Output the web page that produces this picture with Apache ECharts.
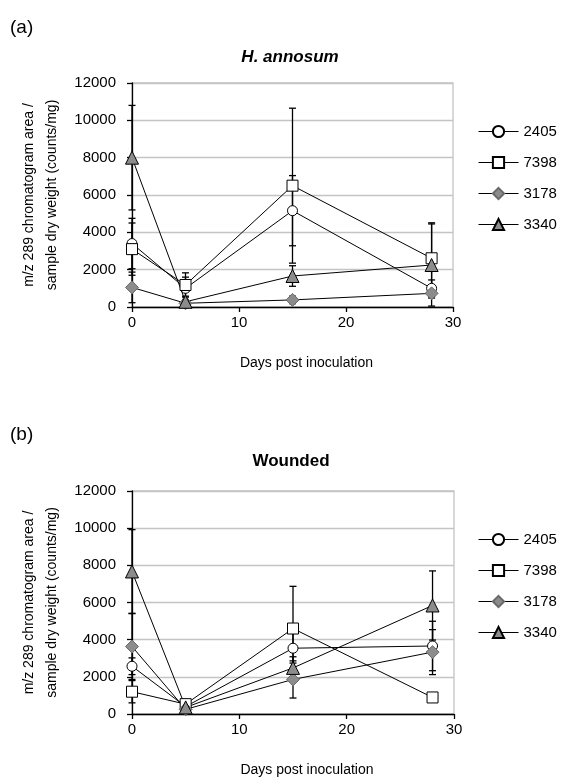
<!DOCTYPE html>
<html>
<head>
<meta charset="utf-8">
<script src="https://cdn.jsdelivr.net/npm/echarts@6/dist/echarts.min.js"></script>
<style>
  html, body { margin: 0; padding: 0; background: #fff; }
  #chart { width: 561px; height: 778px; }
</style>
</head>
<body>
<div id="chart"></div>
<script>
// Sampling days
const days = [0, 5, 15, 28];
const strainNames = ['2405', '7398', '3178', '3340'];
const yTicks = [0, 2000, 4000, 6000, 8000, 10000, 12000];
const xTicks = [0, 10, 20, 30];

// (a) H. annosum inoculated: mean values
const annosum2405 = [3400, 1000, 5160, 1000];
const annosum7398 = [3100, 1180, 6500, 2610];
const annosum3178 = [1050, 200, 380, 730];
const annosum3340 = [8000, 280, 1660, 2250];
// (a) standard deviations
const annosum2405Err = [1350, 600, 1880, 450];
const annosum7398Err = [1400, 650, 4150, 1900];
const annosum3178Err = [820, 150, 200, 250];
const annosum3340Err = [2800, 300, 550, 2200];

// (b) Wounded: mean values
const wounded2405 = [2570, 400, 3540, 3660];
const wounded7398 = [1200, 530, 4600, 890];
const wounded3178 = [3630, 250, 1860, 3330];
const wounded3340 = [7670, 355, 2480, 5840];
// (b) standard deviations
const wounded2405Err = [450, 150, 800, 1330];
const wounded7398Err = [600, 150, 2270, 100];
const wounded3178Err = [1770, 150, 1000, 1210];
const wounded3340Err = [2250, 150, 600, 1860];

const FONT = 'Liberation Sans, Arial, sans-serif';

const markerStyles = {
  '2405': { symbol: 'circle', symbolSize: 10, itemStyle: { color: '#ffffff', borderColor: '#000', borderWidth: 1 } },
  '7398': { symbol: 'rect', symbolSize: 11, itemStyle: { color: '#ffffff', borderColor: '#000', borderWidth: 1 } },
  '3178': { symbol: 'diamond', symbolSize: 13, itemStyle: { color: '#8c8c8c', borderColor: '#6a6a6a', borderWidth: 1 } },
  '3340': { symbol: 'triangle', symbolSize: 13, itemStyle: { color: '#8c8c8c', borderColor: '#000', borderWidth: 1 } }
};

const panels = [
  { values: [annosum2405, annosum7398, annosum3178, annosum3340],
    errors: [annosum2405Err, annosum7398Err, annosum3178Err, annosum3340Err] },
  { values: [wounded2405, wounded7398, wounded3178, wounded3340],
    errors: [wounded2405Err, wounded7398Err, wounded3178Err, wounded3340Err] }
];

const grids = [
  { left: 132, top: 83, width: 321, height: 224 },
  { left: 132, top: 491, width: 322, height: 226 }
];

function xAxisFor(i) {
  return {
    gridIndex: i, type: 'value', min: 0, max: 30, interval: 10,
    name: 'Days post inoculation', nameLocation: 'middle', nameGap: 49,
    nameTextStyle: { fontFamily: FONT, fontSize: 14, color: '#000', padding: [0, 0, 0, 28] },
    axisLine: { show: true, onZero: false, lineStyle: { color: '#000', width: 1.3 } },
    axisTick: { show: true, inside: false, length: 5, lineStyle: { color: '#000', width: 1.3 } },
    axisLabel: { fontFamily: FONT, fontSize: 15, color: '#000', margin: 8,
      formatter: v => xTicks.includes(v) ? String(v) : '' },
    splitLine: { show: false }
  };
}

function yAxisFor(i) {
  return {
    gridIndex: i, type: 'value', min: 0, max: 12000, interval: 2000,
    name: 'm/z 289 chromatogram area /\nsample dry weight (counts/mg)',
    nameLocation: 'middle', nameRotate: 90, nameGap: 68,
    nameTextStyle: { fontFamily: FONT, fontSize: 14, color: '#000', lineHeight: 23 },
    axisLine: { show: true, lineStyle: { color: '#000', width: 1.3 } },
    axisTick: { show: true, inside: false, length: 5, lineStyle: { color: '#000', width: 1.3 } },
    axisLabel: { fontFamily: FONT, fontSize: 15, color: '#000', margin: 16,
      formatter: v => yTicks.includes(v) ? String(v) : '' },
    splitLine: { show: true, lineStyle: { color: '#c4c4c4', width: 1.3 } }
  };
}

// Vertical error bar with caps, drawn through the axis scales
function renderErrorBar(params, api) {
  const x = api.value(0), y = api.value(1), e = api.value(2);
  const hi = api.coord([x, Math.min(y + e, 12000)]);
  const lo = api.coord([x, Math.max(y - e, 0)]);
  const cap = 3.5;
  const style = { stroke: '#000', lineWidth: 1.3 };
  return {
    type: 'group',
    children: [
      { type: 'line', shape: { x1: hi[0], y1: hi[1], x2: lo[0], y2: lo[1] }, style },
      { type: 'line', shape: { x1: hi[0] - cap, y1: hi[1], x2: hi[0] + cap, y2: hi[1] }, style },
      { type: 'line', shape: { x1: lo[0] - cap, y1: lo[1], x2: lo[0] + cap, y2: lo[1] }, style }
    ]
  };
}

const series = [];
panels.forEach((panel, p) => {
  strainNames.forEach((name, s) => {
    series.push({
      name: 'sd-' + p + '-' + name,
      type: 'custom',
      xAxisIndex: p, yAxisIndex: p,
      renderItem: renderErrorBar,
      data: days.map((d, k) => [d, panel.values[s][k], panel.errors[s][k]]),
      z: 1, silent: true
    });
  });
  strainNames.forEach((name, s) => {
    series.push(Object.assign({
      name: name,
      type: 'line',
      xAxisIndex: p, yAxisIndex: p,
      data: days.map((d, k) => [d, panel.values[s][k]]),
      lineStyle: { color: '#000', width: 1 },
      z: 3, animation: false
    }, markerStyles[name]));
  });
});

function legendFor(top) {
  return {
    orient: 'vertical', left: 473, top: top,
    data: strainNames,
    itemWidth: 40, itemHeight: 14, itemGap: 16,
    lineStyle: { width: 1, color: '#000' },
    textStyle: { fontFamily: FONT, fontSize: 15, color: '#000' },
    selectedMode: false
  };
}

const chart = echarts.init(document.getElementById('chart'), null, { renderer: 'canvas' });
chart.setOption({
  animation: false,
  backgroundColor: '#ffffff',
  title: [
    { text: '(a)', left: 5, top: 13, textStyle: { fontFamily: FONT, fontSize: 19, fontWeight: 'normal', color: '#000' } },
    { text: 'H. annosum', left: 285, top: 44, textAlign: 'center',
      textStyle: { fontFamily: FONT, fontSize: 17, fontWeight: 'bold', fontStyle: 'italic', color: '#000' } },
    { text: '(b)', left: 5, top: 420, textStyle: { fontFamily: FONT, fontSize: 19, fontWeight: 'normal', color: '#000' } },
    { text: 'Wounded', left: 286, top: 448, textAlign: 'center',
      textStyle: { fontFamily: FONT, fontSize: 17, fontWeight: 'bold', color: '#000' } }
  ],
  legend: [legendFor(119), legendFor(527)],
  grid: grids.map(g => Object.assign({ show: true, borderColor: '#c4c4c4', borderWidth: 1.3, backgroundColor: 'transparent' }, g)),
  xAxis: [xAxisFor(0), xAxisFor(1)],
  yAxis: [yAxisFor(0), yAxisFor(1)],
  series: series
});
</script>
</body>
</html>
